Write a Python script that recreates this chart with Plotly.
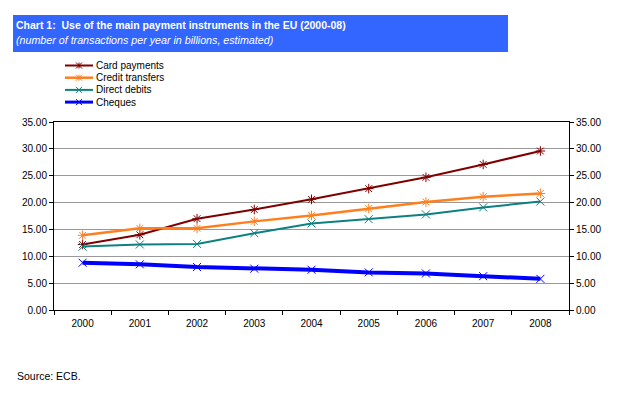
import plotly.graph_objects as go

years = ["2000", "2001", "2002", "2003", "2004", "2005", "2006", "2007", "2008"]
card_payments = [12.2, 14.0, 17.0, 18.7, 20.6, 22.6, 24.7, 27.1, 29.6]
credit_transfers = [13.9, 15.2, 15.2, 16.5, 17.6, 18.9, 20.1, 21.1, 21.7]
direct_debits = [11.8, 12.2, 12.3, 14.3, 16.1, 16.9, 17.8, 19.1, 20.2]
cheques = [8.8, 8.5, 8.0, 7.7, 7.5, 7.0, 6.8, 6.3, 5.8]
y_ticks = [0, 5, 10, 15, 20, 25, 30, 35]
y_tick_labels = ["0.00", "5.00", "10.00", "15.00", "20.00", "25.00", "30.00", "35.00"]

FONT = "Liberation Sans, Arial, sans-serif"

series = [
    ("Card payments", card_payments, "#800000", 2, "asterisk-open", "y"),
    ("Credit transfers", credit_transfers, "#FF7F1F", 2.5, "asterisk-open", "y"),
    ("Direct debits", direct_debits, "#0E8080", 2, "x-thin-open", "y"),
    ("Cheques", cheques, "#0000FF", 4, "x-thin-open", "y2"),
]

fig = go.Figure()
for name, vals, color, w, sym, ax in series:
    fig.add_trace(go.Scatter(
        x=years, y=vals, name=name, mode="lines+markers", yaxis=ax,
        line=dict(color=color, width=w),
        marker=dict(symbol=sym, size=8, color=color, line=dict(color=color, width=1)),
        showlegend=False,
    ))

# page body has an 8px margin: work in window pixels and offset
OFF = 8
W, H = 607, 382
L, T = 54 - OFF, 122 - OFF
pw, ph = 515, 188
R = W - L - pw
B = H - T - ph

def px_x(px):
    return (px - OFF - L) / pw

def px_y(py):
    return (T + ph - (py - OFF)) / ph

fig.add_shape(type="rect", xref="paper", yref="paper",
              x0=px_x(13), x1=px_x(508), y0=px_y(52), y1=px_y(15),
              fillcolor="#3366FF", line=dict(width=0), layer="below")

fig.add_annotation(xref="paper", yref="paper", x=px_x(14), y=px_y(17),
                   xanchor="left", yanchor="top", showarrow=False,
                   text="<b>Chart 1:  Use of the main payment instruments in the EU (2000-08)</b>",
                   font=dict(family=FONT, size=10.5, color="white"))
fig.add_annotation(xref="paper", yref="paper", x=px_x(14), y=px_y(32),
                   xanchor="left", yanchor="top", showarrow=False,
                   text="<i>(number of transactions per year in billions, estimated)</i>",
                   font=dict(family=FONT, size=10.7, color="white"))
fig.add_annotation(xref="paper", yref="paper", x=px_x(15), y=px_y(368),
                   xanchor="left", yanchor="top", showarrow=False,
                   text="Source: ECB.",
                   font=dict(family=FONT, size=10.5, color="black"))

# manual legend (compact spacing as in the original)
leg_y0, leg_dy = 65.5, 12.2
for i, (name, vals, color, w, sym, ax) in enumerate(series):
    yy = px_y(leg_y0 + leg_dy * i)
    fig.add_shape(type="line", xref="paper", yref="paper",
                  x0=px_x(65), x1=px_x(93), y0=yy, y1=yy,
                  line=dict(color=color, width=min(w, 3)))
    cx = px_x(79)
    dx = 3 / pw
    dy = 3 / ph
    fig.add_shape(type="line", xref="paper", yref="paper",
                  x0=cx - dx, x1=cx + dx, y0=yy - dy, y1=yy + dy,
                  line=dict(color=color, width=1))
    fig.add_shape(type="line", xref="paper", yref="paper",
                  x0=cx - dx, x1=cx + dx, y0=yy + dy, y1=yy - dy,
                  line=dict(color=color, width=1))
    if sym.startswith("asterisk"):
        fig.add_shape(type="line", xref="paper", yref="paper",
                      x0=cx, x1=cx, y0=yy - dy, y1=yy + dy,
                      line=dict(color=color, width=1))
    fig.add_annotation(xref="paper", yref="paper", x=px_x(94), y=yy,
                       xanchor="left", yanchor="middle", showarrow=False,
                       text=name, font=dict(family=FONT, size=10, color="black"))

axis_common = dict(range=[0, 35], tickvals=y_ticks, ticktext=y_tick_labels,
                   ticks="outside", ticklen=4, tickcolor="black",
                   showline=True, linecolor="black", linewidth=1,
                   tickfont=dict(family=FONT, size=10, color="black"),
                   zeroline=False, fixedrange=True, automargin=False)

fig.update_layout(
    width=W, height=H,
    margin=dict(l=L, r=R, t=T, b=B, autoexpand=False),
    paper_bgcolor="white", plot_bgcolor="white",
    font=dict(family=FONT, size=10, color="black"),
    showlegend=False,
    xaxis=dict(type="category", tickson="boundaries", ticks="outside", ticklen=4,
               tickcolor="black", showline=True, linecolor="black", mirror=True,
               showgrid=False, tickfont=dict(family=FONT, size=10, color="black"),
               ticklabelstandoff=4, range=[-0.5, 8.5], automargin=False),
    yaxis=dict(**axis_common, showgrid=True, gridcolor="#999999", gridwidth=1),
    yaxis2=dict(**axis_common, overlaying="y", side="right", showgrid=False, matches="y"),
)

fig.write_html("out.html")
